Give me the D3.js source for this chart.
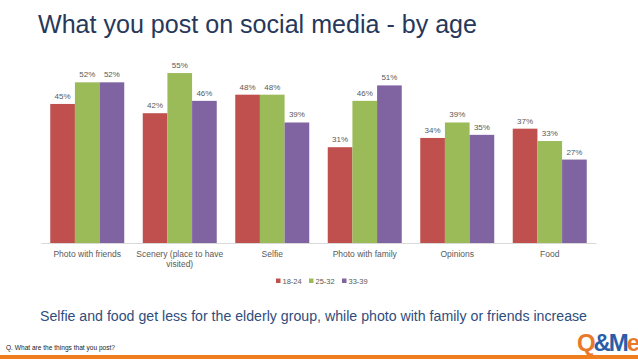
<!DOCTYPE html>
<html>
<head>
<meta charset="utf-8">
<script src="https://cdn.jsdelivr.net/npm/d3@7"></script>
<style>
  html, body { margin: 0; padding: 0; background: #ffffff; }
  svg { display: block; font-family: "Liberation Sans", Arial, sans-serif; }
</style>
</head>
<body>
<svg id="chart" width="638" height="359"></svg>
<script>
const categories = ["Photo with friends", "Scenery (place to have visited)", "Selfie", "Photo with family", "Opinions", "Food"];
const seriesNames = ["18-24", "25-32", "33-39"];
const values1824 = [0.45, 0.42, 0.48, 0.31, 0.34, 0.37];
const values2532 = [0.52, 0.55, 0.48, 0.46, 0.39, 0.33];
const values3339 = [0.52, 0.46, 0.39, 0.51, 0.35, 0.27];
const colors = ["#c0504d", "#9bbb59", "#8064a2"];
const categoryLines = [["Photo with friends"], ["Scenery (place to have", "visited)"], ["Selfie"], ["Photo with family"], ["Opinions"], ["Food"]];

const seriesValues = [values1824, values2532, values3339];
const svg = d3.select("#chart");

// Title
svg.append("text")
  .attr("x", 38).attr("y", 33)
  .attr("font-size", 25)
  .attr("fill", "#27385a")
  .attr("textLength", 439)
  .attr("lengthAdjust", "spacingAndGlyphs")
  .text("What you post on social media - by age");

const x0 = d3.scaleBand().domain(categories).range([41, 596]).paddingInner(0.2).paddingOuter(0.1);
const x1 = d3.scaleBand().domain(seriesNames).range([0, x0.bandwidth()]);
const y = d3.scaleLinear().domain([0, 0.6]).range([243, 57.6]);

const groups = svg.append("g").selectAll("g")
  .data(categories).join("g")
  .attr("transform", d => `translate(${x0(d)},0)`);

groups.each(function(cat, ci) {
  const g = d3.select(this);
  seriesNames.forEach((s, si) => {
    const v = seriesValues[si][ci];
    g.append("rect")
      .attr("x", x1(s))
      .attr("y", y(v))
      .attr("width", x1.bandwidth())
      .attr("height", y(0) - y(v))
      .attr("fill", colors[si]);
    g.append("text")
      .attr("x", x1(s) + x1.bandwidth() / 2)
      .attr("y", y(v) - 5)
      .attr("text-anchor", "middle")
      .attr("font-size", 8)
      .attr("fill", "#595959")
      .text(Math.round(v * 100) + "%");
  });
});

// Baseline axis
const xAxis = d3.axisBottom(x0).tickSize(0).tickFormat("");
const axisG = svg.append("g").attr("transform", `translate(0,${y(0)})`).call(xAxis);
axisG.select(".domain").attr("stroke", "#d9d9d9").attr("stroke-width", 1);

// Category labels
categories.forEach((c, i) => {
  const t = svg.append("text")
    .attr("x", x0(c) + x0.bandwidth() / 2)
    .attr("y", 257)
    .attr("text-anchor", "middle")
    .attr("font-size", 8.5)
    .attr("fill", "#595959");
  categoryLines[i].forEach((line, li) => {
    t.append("tspan").attr("x", x0(c) + x0.bandwidth() / 2).attr("dy", li === 0 ? 0 : 10).text(line);
  });
});

// Legend
const legendX = [276, 309, 342];
seriesNames.forEach((s, i) => {
  svg.append("rect").attr("x", legendX[i]).attr("y", 278.5).attr("width", 4.5).attr("height", 4.5).attr("fill", colors[i]);
  svg.append("text").attr("x", legendX[i] + 6.5).attr("y", 283.5)
    .attr("font-size", 7.5).attr("fill", "#595959").text(s);
});

// Subtitle
svg.append("text")
  .attr("x", 40).attr("y", 321)
  .attr("font-size", 15.5)
  .attr("fill", "#2f4d7c")
  .attr("textLength", 547)
  .attr("lengthAdjust", "spacingAndGlyphs")
  .text("Selfie and food get less for the elderly group, while photo with family or friends increase");

// Question footnote
svg.append("text")
  .attr("x", 6).attr("y", 349.5)
  .attr("font-size", 8)
  .attr("fill", "#222222")
  .attr("textLength", 109)
  .attr("lengthAdjust", "spacingAndGlyphs")
  .text("Q. What are the things that you post?");

// Logo
const logo = svg.append("text")
  .attr("x", 577).attr("y", 351)
  .attr("font-size", 23)
  .attr("font-weight", "bold")
  .attr("letter-spacing", -2)
  .attr("textLength", 61)
  .attr("lengthAdjust", "spacingAndGlyphs");
logo.append("tspan").attr("fill", "#e8792a").text("Q");
logo.append("tspan").attr("fill", "#2a5da8").text("&");
logo.append("tspan").attr("fill", "#2a5da8").text("M");
logo.append("tspan").attr("fill", "#e8792a").text("e");

// Bottom orange band
svg.append("rect").attr("x", 0).attr("y", 355).attr("width", 638).attr("height", 4).attr("fill", "#f07d1e");
</script>
</body>
</html>
